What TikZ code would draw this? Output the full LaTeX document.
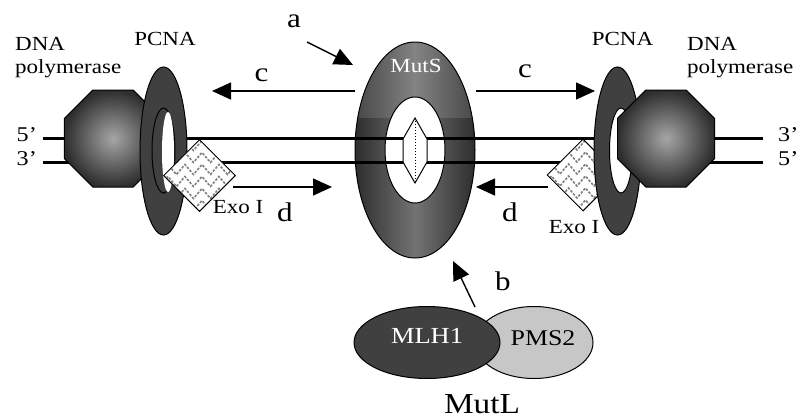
\documentclass[tikz,border=0pt]{standalone}
\usepackage{fontspec}
\setmainfont{Liberation Serif}[FakeStretch=1.15]
\usetikzlibrary{positioning,shapes.geometric,arrows.meta,decorations.pathmorphing}

\tikzset{
	mmrpicture/.style = {
		x = 1pt,
		y = -1pt,
		font = \fontsize{20}{23}\selectfont,
		arrow/.style = {
			draw,
			line width = 1.4pt,
			-{Triangle[length = 19pt, width = 17pt]},
		}
	},
	strand/.style = {
		line width = 3pt
	},
	strand-end/.style = {
		inner sep = 0pt,
		yshift = 3pt,
		font = \fontsize{21}{23}\selectfont
	},
	tag/.style = {
		anchor = base,
		font = \fontsize{27}{30}\selectfont
	},
	name-block/.style = {
		anchor = north west,
		align = left,
		inner sep = 0pt
	},
	polymerase/.style = {
		regular polygon,
		regular polygon sides = 8,
		minimum size = 105pt,
		inner sep = 0pt,
		draw = black,
		line width = 1pt,
		inner color = black!35,
		outer color = black!82
	},
	clamp/.style = {
		ellipse,
		inner sep = 0pt,
		minimum width = 47pt,
		minimum height = 168pt,
		draw = black,
		line width = 1pt,
		fill = black!75
	},
	clamp-hole/.style = {
		ellipse,
		inner sep = 0pt,
		minimum width = 23pt,
		minimum height = 85pt,
		draw = black,
		line width = 1pt,
		fill = white
	},
	clamp-gap/.style = {
		ellipse,
		inner sep = 0pt,
		minimum width = 12pt,
		minimum height = 80pt,
		fill = white
	},
	muts/.style = {
		ellipse,
		inner sep = 0pt,
		minimum width = 120pt,
		minimum height = 216pt,
		draw = black,
		line width = 1pt,
		left color = black!82,
		right color = black!82,
		middle color = black!55,
		path picture = {
			\fill[white, opacity = .12] (path picture bounding box.north west) rectangle ([yshift = -76pt]path picture bounding box.north east);
		}
	},
	muts-hole/.style = {
		ellipse,
		inner sep = 0pt,
		minimum width = 60pt,
		minimum height = 106pt,
		draw = black,
		line width = 1pt,
		fill = white
	},
	wave/.style = {
		draw = black!50,
		line width = 1.6pt,
		dash pattern = on 2.5pt off 1.5pt,
		decorate,
		decoration = {zigzag, segment length = 17pt, amplitude = 5pt}
	},
	exo/.style = {
		diamond,
		inner sep = 0pt,
		minimum width = 72pt,
		minimum height = 72pt,
		draw = black,
		line width = 1pt,
		fill = white,
		path picture = {
			\foreach \k in {-30, -18, ..., 30}
				\draw[wave] ([yshift = \k pt]path picture bounding box.west) -- ([yshift = \k pt]path picture bounding box.east);
		}
	},
	mlh/.style = {
		ellipse,
		inner sep = 0pt,
		minimum width = 146pt,
		minimum height = 72pt,
		draw = black,
		line width = 1pt,
		fill = black!75,
		text = white,
		text depth = 14pt,
		font = \fontsize{23}{25}\selectfont
	},
	pms/.style = {
		ellipse,
		inner sep = 0pt,
		minimum width = 118pt,
		minimum height = 72pt,
		draw = black,
		line width = 1pt,
		fill = black!22
	}
}

\begin{document}
\begin{tikzpicture}[mmrpicture]
	\useasboundingbox (0,0) rectangle (801,418);

	% MutS clamp
	\node[muts] (MutS) at (415,150) {};
	\node[muts-hole] (MutS-hole) at (415,150) {};
	\node[text = white] (MutS-name) at (416,66) {MutS};

	% duplex
	\coordinate (top-left) at (43,138);
	\coordinate (top-right) at (763,138);
	\coordinate (bottom-left) at (43,162);
	\coordinate (bottom-right) at (763,162);
	\draw[strand] (top-left) -- (top-right);
	\draw[strand] (bottom-left) -- (bottom-right);

	\node[strand-end, left = 6pt of top-left] (top-5) {5'};
	\node[strand-end, left = 6pt of bottom-left] (bottom-3) {3'};
	\node[strand-end, right = 15pt of top-right] (top-3) {3'};
	\node[strand-end, right = 15pt of bottom-right] (bottom-5) {5'};

	% mismatch
	\draw[line width = 1pt, fill = white] (415,118) -- (427,139) -- (427,162) -- (415,183) -- (403,162) -- (403,139) -- cycle;
	\draw[dotted, line width = 1pt] (415,118) -- (415,183);

	% left side
	\node[polymerase] (pol-left) at (113,138.5) {};
	\node[clamp] (PCNA-left) at (163.5,151) {};
	\node[clamp-hole, fill = black!75] (PCNA-left-hole) at (163.5,150.5) {};
	\node[clamp-gap] (PCNA-left-gap) at (168,152) {};
	\node[exo] (Exo-left) at (199.5,175.5) {};

	% right side
	\node[exo] (Exo-right) at (583,175) {};
	\node[clamp] (PCNA-right) at (617.5,151) {};
	\node[clamp-hole] (PCNA-right-hole) at (621,150.5) {};
	\node[polymerase] (pol-right) at (666,138.5) {};

	\node (PCNA-left-name) at (165,38.5) {PCNA};
	\node (PCNA-right-name) at (622.5,38.5) {PCNA};
	\node[name-block] (pol-left-name) at (15,37) {DNA\\polymerase};
	\node[name-block] (pol-right-name) at (687,37) {DNA\\polymerase};
	\node[anchor = base] (Exo-left-name) at (238,213) {Exo I};
	\node[anchor = base] (Exo-right-name) at (574,233) {Exo I};

	% arrows
	\coordinate (a-tail) at (307,42);
	\coordinate (a-tip) at (353,65);
	\coordinate (b-tail) at (475,307);
	\coordinate (b-tip) at (453,261);
	\coordinate (c-left-tip) at (212,91);
	\coordinate (c-right-tip) at (595,91);
	\coordinate (d-left-tail) at (233,187);
	\coordinate (d-left-tip) at (332,187);
	\coordinate (d-right-tail) at (548,187);
	\coordinate (d-right-tip) at (476,187);

	\begin{scope}[every path/.style = arrow]
		\path (a-tail) to (a-tip);
		\path (b-tail) to (b-tip);
		\path (MutS.west |- c-left-tip) to (c-left-tip);
		\path (MutS.east |- c-right-tip) to (c-right-tip);
		\path (d-left-tail) to (d-left-tip);
		\path (d-right-tail) to (d-right-tip);
	\end{scope}

	\node[tag] (a) at (294,27) {a};
	\node[tag] (b) at (503,290) {b};
	\node[tag] (c-left) at (261.5,81) {c};
	\node[tag] (c-right) at (525,77) {c};
	\node[tag] (d-left) at (285,221) {d};
	\node[tag] (d-right) at (510,221) {d};

	% MutL heterodimer
	\node[pms] (PMS2) at (534,342.5) {};
	\node[mlh] (MLH1) at (427,342.5) {MLH1};
	\node[anchor = base, font = \fontsize{22.5}{25}\selectfont] (PMS2-name) at (543,345) {PMS2};
	\node[anchor = base, font = \fontsize{29}{32}\selectfont] (MutL) at (482,413) {MutL};
\end{tikzpicture}
\end{document}
